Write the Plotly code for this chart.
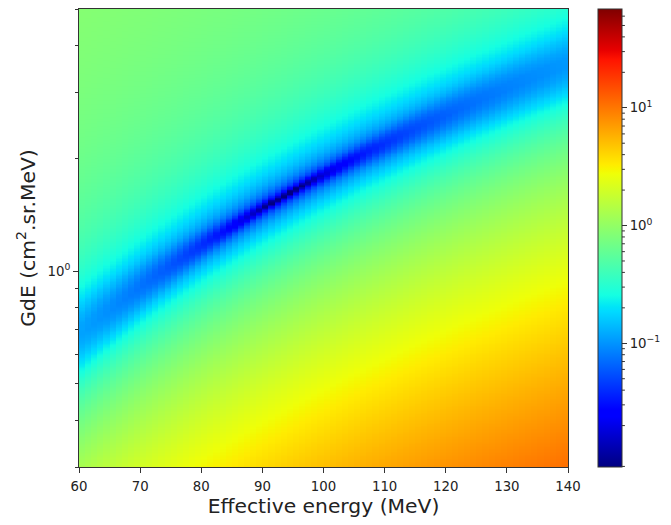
import numpy as np
import plotly.graph_objects as go

# ---- data ----
energy_mev = np.arange(60.5, 140.0, 1.0)          # 80 energy columns, 1 MeV wide
gde_values = np.geomspace(0.3, 5.0, 320)           # GdE rows (log spaced)
spectral_indices = [1.51, 1.66, 1.81, 1.96, 2.11, 2.26, 2.41]   # bow-tie spectra indices
crossing_energy = 93.7                             # MeV, dark spot
crossing_gde = 1.59                                # cm2.sr.MeV, dark spot
colour_limits = [0.0089, 69.0]                     # colourbar range
x_ticks = [60, 70, 80, 90, 100, 110, 120, 130, 140]
y_major = [1.0]
y_major_text = ["10<sup>0</sup>"]
y_minor = [0.3, 0.4, 0.5, 0.6, 0.7, 0.8, 0.9, 2, 3, 4, 5]
cb_major = [0.1, 1.0, 10.0]
cb_major_text = ["10<sup>\u22121</sup>", "10<sup>0</sup>", "10<sup>1</sup>"]
cb_minor = [m * d for d in (0.001, 0.01, 0.1, 1.0, 10.0) for m in range(2, 10)]

# ---- field: mean absolute deviation of the bow-tie ratios ----
E, G = np.meshgrid(energy_mev, gde_values)
ratios = [(crossing_gde / G) * (E / crossing_energy) ** g for g in spectral_indices]
field = np.mean([np.abs(r - 1.0) for r in ratios], axis=0)
zlog = np.log10(np.clip(field, 1e-6, None))
zmin, zmax = np.log10(colour_limits[0]), np.log10(colour_limits[1])

# matplotlib 'jet'
jet = {
    'r': [(0.0, 0), (0.35, 0), (0.66, 1), (0.89, 1), (1.0, 0.5)],
    'g': [(0.0, 0), (0.125, 0), (0.375, 1), (0.64, 1), (0.91, 0), (1.0, 0)],
    'b': [(0.0, 0.5), (0.11, 1), (0.34, 1), (0.65, 0), (1.0, 0)],
}
stops = sorted(set(p for c in jet.values() for p, _ in c))
def chan(c, t):
    xs, ys = zip(*jet[c])
    return float(np.interp(t, xs, ys))
colorscale = [[t, "rgb(%d,%d,%d)" % tuple(round(255 * chan(c, t)) for c in 'rgb')] for t in stops]

L, R, T, B = 79, 98, 9, 58
W, H = 671, 525
pw = W - L - R
cb_x = (603.5 - L) / pw
cb_thick = 24
tick_font = dict(family='DejaVu Sans', size=13.3, color='#222')
title_font = dict(family='DejaVu Sans', size=20.3, color='#222')

fig = go.Figure(go.Heatmap(
    x=energy_mev, y=gde_values, z=zlog,
    colorscale=colorscale, zmin=zmin, zmax=zmax,
    colorbar=dict(
        x=cb_x, xanchor='left', xpad=0, ypad=0, y=0.5, yanchor='middle',
        len=1, lenmode='fraction', thickness=cb_thick, thicknessmode='pixels',
        outlinewidth=1, outlinecolor='#333',
        tickmode='array', tickvals=[np.log10(v) for v in cb_major], ticktext=cb_major_text,
        ticks='outside', ticklen=5, tickwidth=1, tickcolor='#333',
        tickfont=tick_font,
    ),
    hoverinfo='skip',
))

shapes = []
for v in cb_minor:
    lv = np.log10(v)
    if zmin <= lv <= zmax:
        yp = (lv - zmin) / (zmax - zmin)
        x0 = cb_x + cb_thick / pw
        shapes.append(dict(type='line', xref='paper', yref='paper',
                           x0=x0, x1=x0 + 3 / pw, y0=yp, y1=yp,
                           line=dict(color='#333', width=1)))

fig.update_layout(
    width=W, height=H, margin=dict(l=L, r=R, t=T, b=B),
    paper_bgcolor='white', plot_bgcolor='white',
    font=dict(family='DejaVu Sans', color='#222'),
    shapes=shapes,
    xaxis=dict(
        range=[60, 140], tickmode='array', tickvals=x_ticks,
        ticks='outside', ticklen=5, tickwidth=1, tickcolor='#333',
        showline=True, mirror=True, linecolor='#333', linewidth=1,
        showgrid=False, zeroline=False, ticklabelstandoff=2,
        tickfont=tick_font,
        title=dict(text='Effective energy (MeV)', standoff=2, font=title_font),
    ),
    yaxis=dict(
        type='log', range=[np.log10(0.3), np.log10(5.0)],
        tickmode='array', tickvals=y_major, ticktext=y_major_text,
        ticks='outside', ticklen=5, tickwidth=1, tickcolor='#333',
        minor=dict(tickmode='array', tickvals=y_minor, ticks='outside',
                   ticklen=3, tickwidth=1, tickcolor='#333', showgrid=False),
        showline=True, mirror=True, linecolor='#333', linewidth=1,
        showgrid=False, zeroline=False,
        tickfont=tick_font,
        title=dict(text='GdE (cm<sup>2</sup>.sr.MeV)', standoff=6, font=title_font),
    ),
)

fig.write_html("out.html")
